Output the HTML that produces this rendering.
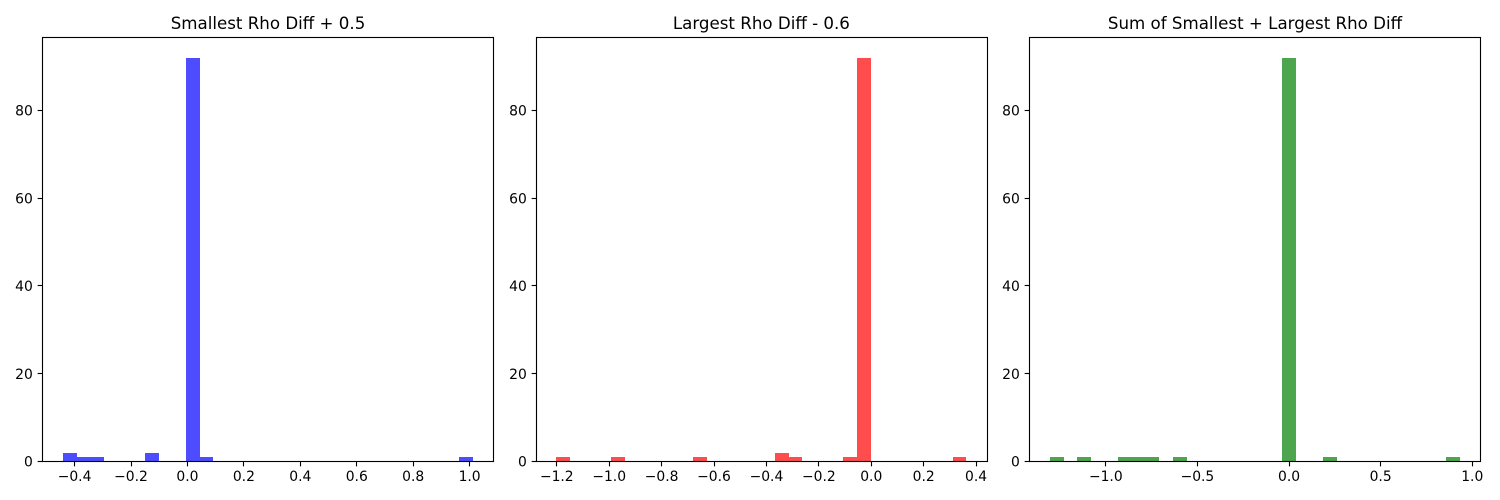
<!DOCTYPE html>
<html lang="en">
<head>
<meta charset="utf-8">
<title>Rho Diff Histograms</title>
<style>
html,body{margin:0;padding:0;background:#fff;}
svg{display:block;}
text{font-family:"DejaVu Sans",sans-serif;fill:#000;}
</style>
</head>
<body>
<svg id="figure" width="1500" height="500" viewBox="0 0 1500 500" xmlns="http://www.w3.org/2000/svg"></svg>
<script>
// Chart data: histogram counts per bin (30 bins) and observed data ranges
const smallestCounts = [2,1,1,0,0,0,2,0,0,92,1,0,0,0,0,0,0,0,0,0,0,0,0,0,0,0,0,0,0,1];
const largestCounts  = [1,0,0,0,1,0,0,0,0,0,1,0,0,0,0,0,2,1,0,0,0,1,92,0,0,0,0,0,0,1];
const sumCounts      = [1,0,1,0,0,1,1,1,0,1,0,0,0,0,0,0,0,92,0,0,1,0,0,0,0,0,0,0,0,1];

const smallestRange = [-0.441, 1.012];
const largestRange  = [-1.2015, 0.363];
const sumRange      = [-1.3046, 0.933];

const smallestXTicks = [-0.4,-0.2,0.0,0.2,0.4,0.6,0.8,1.0];
const largestXTicks  = [-1.2,-1.0,-0.8,-0.6,-0.4,-0.2,0.0,0.2,0.4];
const sumXTicks      = [-1.0,-0.5,0.0,0.5,1.0];
const yTicks         = [0,20,40,60,80];

const titles = ["Smallest Rho Diff + 0.5","Largest Rho Diff - 0.6","Sum of Smallest + Largest Rho Diff"];
const slugs  = ["smallest","largest","sum"];

const NS = "http://www.w3.org/2000/svg";
const svg = document.getElementById("figure");
const frameLefts = [42.5, 536.5, 1029.5];
const plotLefts = [42.5, 535.9, 1029.5];
const axesWidth = 451;
const axesTop = 37.5;
const axesBottom = 461.5;
const colors = ["#4d4dff","#ff4d4d","#4da64d"];

function mk(tag, attrs, parent) {
  const el = document.createElementNS(NS, tag);
  for (const k in attrs) el.setAttribute(k, attrs[k]);
  parent.appendChild(el);
  return el;
}

function snap(v) {
  return Math.floor(v) + 0.5;
}

function drawPanel(i, counts, range, xTicks) {
  const left = plotLefts[i];
  const frameLeft = frameLefts[i];
  const slug = slugs[i];
  const span = range[1] - range[0];
  const xMin = range[0] - span * 0.05;
  const xMax = range[1] + span * 0.05;
  const yMax = Math.max.apply(null, counts) * 1.05;
  const xScale = v => left + (v - xMin) / (xMax - xMin) * axesWidth;
  const yScale = v => axesBottom - v / yMax * (axesBottom - axesTop);

  const g = mk("g", {}, svg);
  
  

  const bg = mk("rect", {x:frameLeft, y:axesTop, width:axesWidth, height:axesBottom-axesTop, fill:"#fff"}, g);
  
  

  const binWidth = span / counts.length;
  counts.forEach((c, b) => {
    const x0 = Math.round(xScale(range[0] + b * binWidth));
    const x1 = Math.round(xScale(range[0] + (b + 1) * binWidth));
    const y1 = Math.round(yScale(c));
    const bar = mk("rect", {x:x0, y:y1, width:x1-x0, height:Math.max(0, yScale(0)-y1), fill:colors[i], "shape-rendering":"crispEdges"}, g);
    
    
  });

  xTicks.forEach(t => {
    const x = xScale(t);
    const tick = mk("line", {x1:snap(x), x2:snap(x), y1:axesBottom, y2:axesBottom+4.86, stroke:"#000", "stroke-width":1.11}, g);
    
    
    const label = mk("text", {x:x, y:481, "text-anchor":"middle", "font-size":13.89}, g);
    
    
    label.textContent = t.toFixed(1).replace("-", "\u2212");
  });

  yTicks.forEach(t => {
    const y = yScale(t);
    const tick = mk("line", {x1:frameLeft-4.86, x2:frameLeft, y1:snap(y), y2:snap(y), stroke:"#000", "stroke-width":1.11}, g);
    
    
    const label = mk("text", {x:frameLeft-9.7, y:y+5.2, "text-anchor":"end", "font-size":13.89}, g);
    
    
    label.textContent = String(t);
  });

  const frame = mk("rect", {x:frameLeft, y:axesTop, width:axesWidth, height:axesBottom-axesTop, fill:"none", stroke:"#000", "stroke-width":1.11}, g);
  
  

  const title = mk("text", {x:left+axesWidth/2, y:29, "text-anchor":"middle", "font-size":16.67}, g);
  
  
  title.textContent = titles[i];
}

drawPanel(0, smallestCounts, smallestRange, smallestXTicks);
drawPanel(1, largestCounts, largestRange, largestXTicks);
drawPanel(2, sumCounts, sumRange, sumXTicks);
</script>
</body>
</html>
